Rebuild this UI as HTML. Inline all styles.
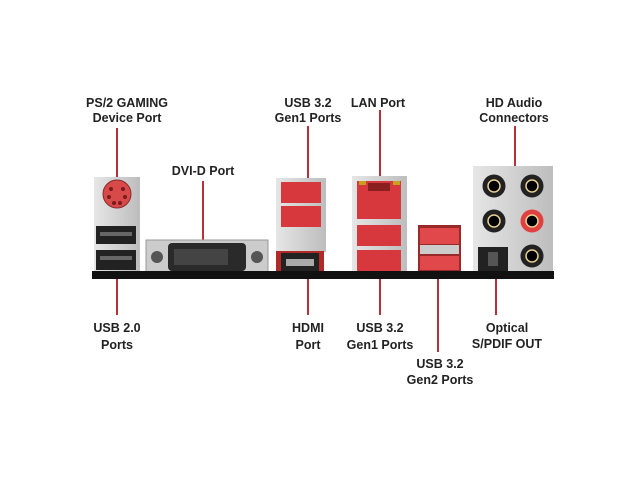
<!DOCTYPE html><html><head><style>body{margin:0;background:#fff}svg{display:block}text{font-family:"Liberation Sans",sans-serif;font-weight:bold;font-size:12.5px;fill:#222;text-anchor:middle}</style></head><body>
<svg width="640" height="480" viewBox="0 0 640 480">
<defs><linearGradient id="s" x1="0" x2="1"><stop offset="0" stop-color="#e6e6e6"/><stop offset="1" stop-color="#bdbdbd"/></linearGradient></defs>
<g stroke="#b8303a" stroke-width="2">
<line x1="117" y1="128" x2="117" y2="190"/><line x1="203" y1="181" x2="203" y2="242"/>
<line x1="308" y1="126" x2="308" y2="186"/><line x1="380" y1="110" x2="380" y2="182"/>
<line x1="515" y1="126" x2="515" y2="172"/>
<line x1="117" y1="276" x2="117" y2="315"/><line x1="308" y1="276" x2="308" y2="315"/>
<line x1="380" y1="276" x2="380" y2="315"/><line x1="438" y1="276" x2="438" y2="352"/>
<line x1="496" y1="276" x2="496" y2="315"/></g>
<!-- PS2 / USB2 -->
<rect x="94" y="177" width="46" height="95" fill="url(#s)"/>
<circle cx="117" cy="194" r="14" fill="#d84a4a" stroke="#8a2a2a"/>
<g fill="#7a1a1a"><circle cx="111" cy="189" r="2"/><circle cx="123" cy="189" r="2"/><circle cx="109" cy="197" r="2"/><circle cx="125" cy="197" r="2"/><circle cx="114" cy="203" r="2"/><circle cx="120" cy="203" r="2"/></g>
<rect x="96" y="226" width="40" height="18" fill="#222"/><rect x="96" y="250" width="40" height="20" fill="#222"/>
<rect x="100" y="232" width="32" height="4" fill="#666"/><rect x="100" y="256" width="32" height="4" fill="#666"/>
<!-- DVI -->
<rect x="146" y="240" width="122" height="32" fill="#ccc" stroke="#999"/>
<circle cx="157" cy="257" r="6" fill="#555"/><circle cx="257" cy="257" r="6" fill="#555"/>
<rect x="168" y="243" width="78" height="28" rx="4" fill="#2a2a2a"/>
<rect x="174" y="249" width="54" height="16" fill="#444"/>
<!-- USB3 + HDMI -->
<rect x="276" y="178" width="50" height="74" fill="url(#s)"/>
<rect x="281" y="182" width="40" height="21" fill="#d6383e"/><rect x="281" y="206" width="40" height="21" fill="#d6383e"/>
<rect x="276" y="251" width="48" height="21" fill="#b02a2a"/>
<rect x="281" y="253" width="38" height="19" fill="#222"/><rect x="286" y="259" width="28" height="7" fill="#aaa"/>
<!-- LAN -->
<rect x="352" y="176" width="55" height="96" fill="url(#s)"/>
<rect x="357" y="181" width="44" height="38" fill="#d6383e"/><rect x="368" y="183" width="22" height="8" fill="#8a1f1f"/>
<rect x="359" y="181" width="7" height="4" fill="#c8a020"/><rect x="393" y="181" width="7" height="4" fill="#c8a020"/>
<rect x="357" y="225" width="44" height="21" fill="#d6383e"/><rect x="357" y="250" width="44" height="21" fill="#d6383e"/>
<!-- Gen2 -->
<rect x="418" y="225" width="43" height="47" fill="#9a2a2a"/>
<rect x="420" y="228" width="39" height="16" fill="#e0484c"/><rect x="420" y="245" width="39" height="9" fill="#ccc"/><rect x="420" y="256" width="39" height="14" fill="#e0484c"/>
<!-- Audio -->
<rect x="473" y="166" width="80" height="106" fill="url(#s)"/>
<g stroke="#222" stroke-width="5"><circle cx="494" cy="186" r="9" fill="#000"/><circle cx="532" cy="186" r="9" fill="#000"/><circle cx="494" cy="221" r="9" fill="#000"/><circle cx="532" cy="256" r="9" fill="#000"/></g>
<circle cx="532" cy="221" r="9" fill="#000" stroke="#e04040" stroke-width="5"/>
<g fill="none" stroke="#e8d090" stroke-width="1.5"><circle cx="494" cy="186" r="6"/><circle cx="532" cy="186" r="6"/><circle cx="494" cy="221" r="6"/><circle cx="532" cy="256" r="6"/><circle cx="532" cy="221" r="6"/></g>
<rect x="478" y="247" width="30" height="25" fill="#222"/><rect x="488" y="252" width="10" height="14" fill="#555"/>
<rect x="92" y="271" width="462" height="8" fill="#111"/>
<text x="127" y="107">PS/2 GAMING</text><text x="127" y="122">Device Port</text>
<text x="203" y="175">DVI-D Port</text>
<text x="308" y="107">USB 3.2</text><text x="308" y="122">Gen1 Ports</text>
<text x="378" y="107">LAN Port</text>
<text x="514" y="107">HD Audio</text><text x="514" y="122">Connectors</text>
<text x="117" y="332">USB 2.0</text><text x="117" y="349">Ports</text>
<text x="308" y="332">HDMI</text><text x="308" y="349">Port</text>
<text x="380" y="332">USB 3.2</text><text x="380" y="349">Gen1 Ports</text>
<text x="440" y="368">USB 3.2</text><text x="440" y="384">Gen2 Ports</text>
<text x="507" y="332">Optical</text><text x="507" y="348">S/PDIF OUT</text>
</svg></body></html>
